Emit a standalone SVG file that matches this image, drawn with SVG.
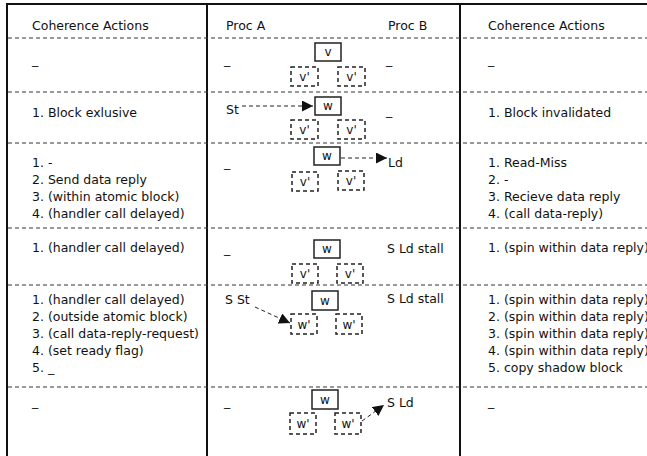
<svg xmlns="http://www.w3.org/2000/svg" width="647" height="456" viewBox="0 0 647 456">
  <style>
    text { font-family: "DejaVu Sans", "Liberation Sans", sans-serif; font-size: 12.5px; fill: #111; }
    .mid { text-anchor: middle; font-size: 12px; }
    .frame { stroke: #111; stroke-width: 2; fill: none; }
    .sep { stroke: #333; stroke-width: 1; stroke-dasharray: 4 3; fill: none; }
    .blk { fill: #fff; stroke: #222; stroke-width: 1.5; }
    .shadow { fill: #fff; stroke: #222; stroke-width: 1.5; stroke-dasharray: 4 3; }
    .conn { stroke: #222; stroke-width: 1; stroke-dasharray: 4 3; fill: none; marker-end: url(#head); }
  </style>
  <defs>
    <marker id="head" viewBox="0 0 10 10" refX="10" refY="5" markerWidth="11" markerHeight="11" markerUnits="userSpaceOnUse" orient="auto">
      <path d="M0,0 L10,5 L0,10 z" fill="#111"/>
    </marker>
  </defs>

  <rect width="647" height="456" fill="#fff"/>

  <!-- table frame -->
  <g id="frame">
    <path class="frame" d="M7,456 V4 H647"/>
    <line class="frame" x1="207" y1="4" x2="207" y2="456"/>
    <line class="frame" x1="460" y1="4" x2="460" y2="456"/>
    <line class="sep" x1="8" y1="38" x2="647" y2="38"/>
    <line class="sep" x1="8" y1="92" x2="647" y2="92"/>
    <line class="sep" x1="8" y1="143" x2="647" y2="143"/>
    <line class="sep" x1="8" y1="228" x2="647" y2="228"/>
    <line class="sep" x1="8" y1="285" x2="647" y2="285"/>
    <line class="sep" x1="8" y1="387" x2="647" y2="387"/>
  </g>

  <!-- column headers -->
  <g id="headers">
    <text x="32" y="30">Coherence Actions</text>
    <text x="226" y="30">Proc A</text>
    <text x="388" y="30">Proc B</text>
    <text x="488" y="30">Coherence Actions</text>
  </g>

  <!-- left column: coherence actions -->
  <g id="left-actions">
    <text x="32" y="64">_</text>
    <text x="32" y="117">1. Block exlusive</text>
    <text x="32" y="167">1. -</text>
    <text x="32" y="184">2. Send data reply</text>
    <text x="32" y="201">3. (within atomic block)</text>
    <text x="32" y="218">4. (handler call delayed)</text>
    <text x="32" y="252">1. (handler call delayed)</text>
    <text x="32" y="304">1. (handler call delayed)</text>
    <text x="32" y="321">2. (outside atomic block)</text>
    <text x="32" y="338">3. (call data-reply-request)</text>
    <text x="32" y="355">4. (set ready flag)</text>
    <text x="32" y="372">5. _</text>
    <text x="32" y="406">_</text>
  </g>

  <!-- right column: coherence actions -->
  <g id="right-actions">
    <text x="488" y="64">_</text>
    <text x="488" y="117">1. Block invalidated</text>
    <text x="488" y="167">1. Read-Miss</text>
    <text x="488" y="184">2. -</text>
    <text x="488" y="201">3. Recieve data reply</text>
    <text x="488" y="218">4. (call data-reply)</text>
    <text x="488" y="252">1. (spin within data reply)</text>
    <text x="488" y="304">1. (spin within data reply)</text>
    <text x="488" y="321">2. (spin within data reply)</text>
    <text x="488" y="338">3. (spin within data reply)</text>
    <text x="488" y="355">4. (spin within data reply)</text>
    <text x="488" y="372">5. copy shadow block</text>
    <text x="488" y="406">_</text>
  </g>

  <!-- processor labels -->
  <g id="proc-labels">
    <text x="224" y="64">_</text>
    <text x="386" y="64">_</text>
    <text x="226" y="114">St</text>
    <text x="386" y="115">_</text>
    <text x="224" y="167">_</text>
    <text x="388" y="167">Ld</text>
    <text x="224" y="253">_</text>
    <text x="387" y="253">S Ld stall</text>
    <text x="225" y="304">S St</text>
    <text x="387" y="303">S Ld stall</text>
    <text x="224" y="406">_</text>
    <text x="387" y="407">S Ld</text>
  </g>

  <!-- block states, one group per row -->
  <g id="row1-blocks">
    <rect class="blk" x="315" y="43" width="26" height="18"/><text class="mid" x="328" y="56">v</text>
    <rect class="shadow" x="291" y="67" width="27" height="19"/><text class="mid" x="304.5" y="81">v'</text>
    <rect class="shadow" x="338" y="67" width="27" height="19"/><text class="mid" x="351.5" y="81">v'</text>
  </g>
  <g id="row2-blocks">
    <rect class="blk" x="315" y="97" width="26" height="18"/><text class="mid" x="328" y="110">w</text>
    <rect class="shadow" x="291" y="120" width="27" height="19"/><text class="mid" x="304.5" y="134">v'</text>
    <rect class="shadow" x="338" y="120" width="27" height="19"/><text class="mid" x="351.5" y="134">v'</text>
  </g>
  <g id="row3-blocks">
    <rect class="blk" x="314" y="147" width="26" height="18"/><text class="mid" x="327" y="160">w</text>
    <rect class="shadow" x="292" y="172" width="26" height="19"/><text class="mid" x="305" y="186">v'</text>
    <rect class="shadow" x="338" y="171" width="26" height="19"/><text class="mid" x="351" y="185">v'</text>
  </g>
  <g id="row4-blocks">
    <rect class="blk" x="314" y="240" width="26" height="18"/><text class="mid" x="327" y="253">w</text>
    <rect class="shadow" x="292" y="264" width="26" height="19"/><text class="mid" x="305" y="278">v'</text>
    <rect class="shadow" x="337" y="264" width="26" height="19"/><text class="mid" x="350" y="278">v'</text>
  </g>
  <g id="row5-blocks">
    <rect class="blk" x="312" y="291" width="26" height="19"/><text class="mid" x="325" y="305">w</text>
    <rect class="shadow" x="291" y="314" width="26" height="20"/><text class="mid" x="304" y="329">w'</text>
    <rect class="shadow" x="336" y="314" width="26" height="20"/><text class="mid" x="349" y="329">w'</text>
  </g>
  <g id="row6-blocks">
    <rect class="blk" x="312" y="390" width="26" height="19"/><text class="mid" x="325" y="404">w</text>
    <rect class="shadow" x="290" y="413" width="26" height="21"/><text class="mid" x="303" y="428">w'</text>
    <rect class="shadow" x="335" y="413" width="26" height="21"/><text class="mid" x="348" y="428">w'</text>
  </g>

  <!-- access arrows -->
  <g id="connectors">
    <line class="conn" x1="242" y1="106" x2="313" y2="106"/>
    <line class="conn" x1="341" y1="158" x2="387" y2="158"/>
    <line class="conn" x1="255" y1="307" x2="290" y2="323"/>
    <line class="conn" x1="362" y1="421" x2="384" y2="405"/>
  </g>
</svg>
